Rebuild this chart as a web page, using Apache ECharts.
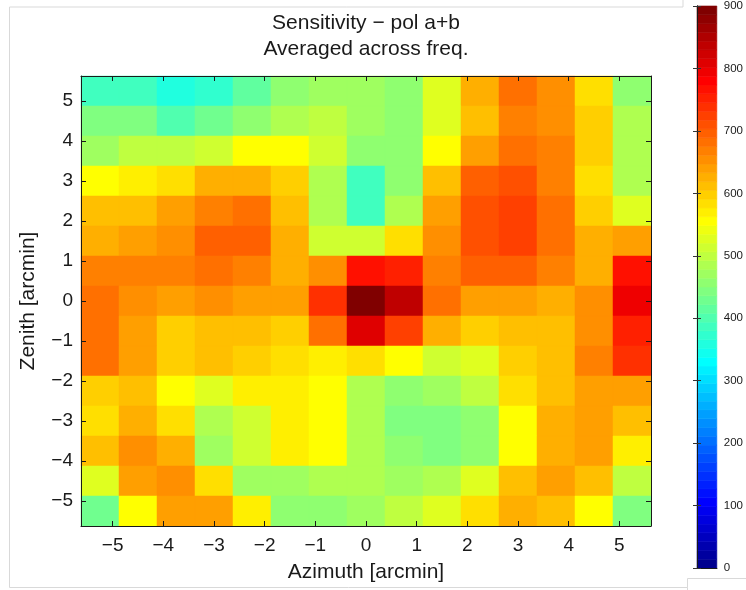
<!DOCTYPE html>
<html>
<head>
<meta charset="utf-8">
<script src="https://cdn.jsdelivr.net/npm/echarts@6/dist/echarts.min.js"></script>
<style>
html,body{margin:0;padding:0;background:#fff;}
#chart{width:746px;height:590px;}
</style>
</head>
<body>
<div id="chart"></div>
<script>
// ---- data ----
const azimuthCenters = [-5.25, -4.5, -3.75, -3, -2.25, -1.5, -0.75, 0, 0.75, 1.5, 2.25, 3, 3.75, 4.5, 5.25];
const zenithCenters  = [5.25, 4.5, 3.75, 3, 2.25, 1.5, 0.75, 0, -0.75, -1.5, -2.25, -3, -3.75, -4.5, -5.25];
const zen_p525 = [383, 383, 363, 368, 413, 453, 468, 473, 463, 533, 632, 675, 654, 589, 453];
const zen_p450 = [436, 436, 401, 428, 463, 488, 503, 478, 458, 533, 612, 661, 653, 600, 483];
const zen_p375 = [478, 503, 503, 513, 555, 555, 513, 453, 453, 555, 639, 676, 668, 600, 488];
const zen_p300 = [558, 576, 589, 625, 625, 600, 483, 383, 453, 612, 695, 710, 661, 583, 488];
const zen_p225 = [605, 612, 639, 668, 685, 612, 483, 383, 488, 639, 717, 727, 682, 595, 533];
const zen_p150 = [625, 639, 653, 695, 695, 625, 513, 508, 583, 650, 717, 727, 682, 619, 633];
const zen_p075 = [668, 668, 661, 682, 668, 625, 653, 768, 752, 661, 693, 702, 661, 625, 768];
const zen_000  = [682, 653, 643, 653, 639, 633, 738, 893, 837, 682, 639, 645, 623, 653, 801];
const zen_m075 = [682, 639, 600, 615, 612, 600, 682, 808, 724, 619, 600, 612, 612, 653, 752];
const zen_m150 = [682, 639, 600, 615, 595, 586, 576, 589, 555, 513, 523, 595, 612, 672, 738];
const zen_m225 = [600, 612, 555, 533, 571, 576, 561, 483, 458, 468, 493, 583, 612, 645, 645];
const zen_m300 = [589, 623, 579, 483, 513, 576, 558, 488, 443, 443, 463, 555, 625, 643, 605];
const zen_m375 = [605, 657, 619, 478, 513, 576, 558, 483, 453, 443, 463, 555, 625, 633, 576];
const zen_m450 = [533, 643, 657, 589, 478, 478, 488, 488, 468, 483, 533, 612, 639, 612, 493];
const zen_m525 = [428, 555, 639, 639, 576, 463, 458, 468, 493, 533, 589, 625, 612, 555, 443];
const sensitivityRows = [zen_p525, zen_p450, zen_p375, zen_p300, zen_p225, zen_p150, zen_p075, zen_000,
                         zen_m075, zen_m150, zen_m225, zen_m300, zen_m375, zen_m450, zen_m525];
const axisTicks = [-5, -4, -3, -2, -1, 0, 1, 2, 3, 4, 5];
const colorbarMin = 0, colorbarMax = 900, colorbarStep = 100;
const titleLines = ['Sensitivity \u2212 pol a+b', 'Averaged across freq.'];

// ---- MATLAB jet(64) colormap ----
function jet(m) {
  const n = Math.ceil(m / 4);
  const u = [];
  for (let k = 1; k <= n; k++) u.push(k / n);
  for (let k = 1; k <= n - 1; k++) u.push(1);
  for (let k = n; k >= 1; k--) u.push(k / n);
  const gOff = Math.ceil(n / 2) - (m % 4 === 1 ? 1 : 0);
  const J = [];
  for (let i = 0; i < m; i++) J.push([0, 0, 0]);
  for (let k = 0; k < u.length; k++) {
    const g = gOff + k + 1, r = g + n, b = g - n;
    if (r >= 1 && r <= m) J[r - 1][0] = u[k];
    if (g >= 1 && g <= m) J[g - 1][1] = u[k];
    if (b >= 1 && b <= m) J[b - 1][2] = u[k];
  }
  return J.map(c => 'rgb(' + c.map(v => Math.round(v * 255)).join(',') + ')');
}
const jetColors = jet(64);
const levelSize = (colorbarMax - colorbarMin) / jetColors.length;
const pieces = jetColors.map((c, j) => {
  const p = { gte: colorbarMin + j * levelSize, color: c };
  if (j === jetColors.length - 1) p.lte = colorbarMax; else p.lt = colorbarMin + (j + 1) * levelSize;
  return p;
});

const cellData = [];
sensitivityRows.forEach((row, r) => row.forEach((v, c) => cellData.push([azimuthCenters[c], zenithCenters[r], v])));
const halfW = (azimuthCenters[1] - azimuthCenters[0]) / 2;
const halfH = (zenithCenters[0] - zenithCenters[1]) / 2;
const xMin = azimuthCenters[0] - halfW, xMax = azimuthCenters[azimuthCenters.length - 1] + halfW;
const yMin = zenithCenters[zenithCenters.length - 1] - halfH, yMax = zenithCenters[0] + halfH;
const colorbarData = jetColors.map((c, j) => [colorbarMin + j * levelSize, colorbarMin + (j + 1) * levelSize, j]);

const FONT = 'Liberation Sans, Arial, Helvetica, sans-serif';
const INK = '#1a1a1a';
const fmt = v => {
  const r = Math.round(v);
  if (Math.abs(v - r) > 1e-6 || axisTicks.indexOf(r) < 0) return '';
  return r < 0 ? '\u2212' + (-r) : String(r);
};

const mainAxisCommon = {
  type: 'value', gridIndex: 0, splitNumber: 10, minInterval: 1, maxInterval: 1,
  axisLine: { show: true, onZero: false, lineStyle: { color: INK, width: 1 } },
  axisTick: { show: true, inside: true, length: 5, lineStyle: { color: INK } },
  splitLine: { show: false }, z: 5
};

const chart = echarts.init(document.getElementById('chart'), null, { renderer: 'canvas' });
chart.setOption({
  backgroundColor: '#ffffff',
  animation: false,
  textStyle: { fontFamily: FONT },
  grid: [
    { left: 81, top: 76, width: 570, height: 450 },
    { left: 697, top: 6, width: 26, height: 562 }
  ],
  visualMap: {
    type: 'piecewise', show: false, seriesIndex: 0, dimension: 2,
    pieces: pieces
  },
  xAxis: [
    Object.assign({}, mainAxisCommon, {
      position: 'bottom', min: xMin, max: xMax,
      axisLabel: { formatter: fmt, fontSize: 19, color: INK, margin: 10, fontFamily: FONT, showMinLabel: false, showMaxLabel: false },
      name: 'Azimuth [arcmin]', nameLocation: 'middle', nameGap: 36,
      nameTextStyle: { fontSize: 21, color: INK, fontFamily: FONT }
    }),
    Object.assign({}, mainAxisCommon, {
      position: 'top', min: xMin, max: xMax, axisLabel: { show: false }
    }),
    { type: 'value', gridIndex: 1, position: 'bottom', min: 0, max: 1, z: 5,
      axisLine: { show: true, lineStyle: { color: INK } }, axisTick: { show: false }, axisLabel: { show: false }, splitLine: { show: false } },
    { type: 'value', gridIndex: 1, position: 'top', min: 0, max: 1, z: 5,
      axisLine: { show: true, lineStyle: { color: INK } }, axisTick: { show: false }, axisLabel: { show: false }, splitLine: { show: false } }
  ],
  yAxis: [
    Object.assign({}, mainAxisCommon, {
      position: 'left', min: yMin, max: yMax,
      axisLabel: { formatter: fmt, fontSize: 19, color: INK, margin: 8, fontFamily: FONT, showMinLabel: false, showMaxLabel: false },
      name: 'Zenith [arcmin]', nameLocation: 'middle', nameGap: 42, nameRotate: 90,
      nameTextStyle: { fontSize: 21, color: INK, fontFamily: FONT }
    }),
    Object.assign({}, mainAxisCommon, {
      position: 'right', min: yMin, max: yMax, axisLabel: { show: false }
    }),
    { type: 'value', gridIndex: 1, position: 'right', min: colorbarMin, max: colorbarMax, interval: colorbarStep, z: 5,
      axisLine: { show: true, lineStyle: { color: INK } },
      axisTick: { show: true, inside: true, length: 4, lineStyle: { color: '#333' } },
      axisLabel: { fontSize: 11.5, color: INK, margin: 7, fontFamily: FONT },
      splitLine: { show: false } },
    { type: 'value', gridIndex: 1, position: 'left', min: colorbarMin, max: colorbarMax, interval: colorbarStep, z: 5,
      axisLine: { show: true, lineStyle: { color: INK } },
      axisTick: { show: true, inside: true, length: 4, lineStyle: { color: '#333' } },
      axisLabel: { show: false }, splitLine: { show: false } }
  ],
  series: [
    {
      type: 'custom', xAxisIndex: 0, yAxisIndex: 0, data: cellData,
      encode: { x: 0, y: 1 },
      renderItem: function (params, api) {
        const x = api.value(0), y = api.value(1);
        const p0 = api.coord([x - halfW, y + halfH]);
        const p1 = api.coord([x + halfW, y - halfH]);
        const col = api.visual('color');
        return { type: 'rect', shape: { x: p0[0], y: p0[1], width: p1[0] - p0[0], height: p1[1] - p0[1] },
                 style: { fill: col, stroke: col, lineWidth: 0.5 } };
      }
    },
    {
      type: 'custom', xAxisIndex: 2, yAxisIndex: 2, data: colorbarData,
      encode: { y: [0, 1] },
      renderItem: function (params, api) {
        const lo = api.value(0), hi = api.value(1), j = api.value(2);
        const p0 = api.coord([0, hi]);
        const p1 = api.coord([1, lo]);
        return { type: 'rect', shape: { x: p0[0], y: p0[1], width: p1[0] - p0[0], height: p1[1] - p0[1] },
                 style: { fill: jetColors[j], stroke: jetColors[j], lineWidth: 0.6 } };
      }
    }
  ],
  graphic: [
    { type: 'text', x: 366, y: 23, style: { text: titleLines[0], font: '21px ' + FONT, fill: INK, textAlign: 'center', textVerticalAlign: 'middle' } },
    { type: 'text', x: 366, y: 49, style: { text: titleLines[1], font: '21px ' + FONT, fill: INK, textAlign: 'center', textVerticalAlign: 'middle' } },
    { type: 'polyline', shape: { points: [[683, 0], [683, 7], [9.5, 7], [9.5, 587.5], [687.5, 587.5], [687.5, 578.5], [746, 578.5]] },
      style: { stroke: '#d9d9d9', fill: null, lineWidth: 1 }, z: -1 },
    { type: 'line', shape: { x1: 687.5, y1: 587.5, x2: 687.5, y2: 590 }, style: { stroke: '#d9d9d9', lineWidth: 1 }, z: -1 }
  ]
});
</script>
</body>
</html>
